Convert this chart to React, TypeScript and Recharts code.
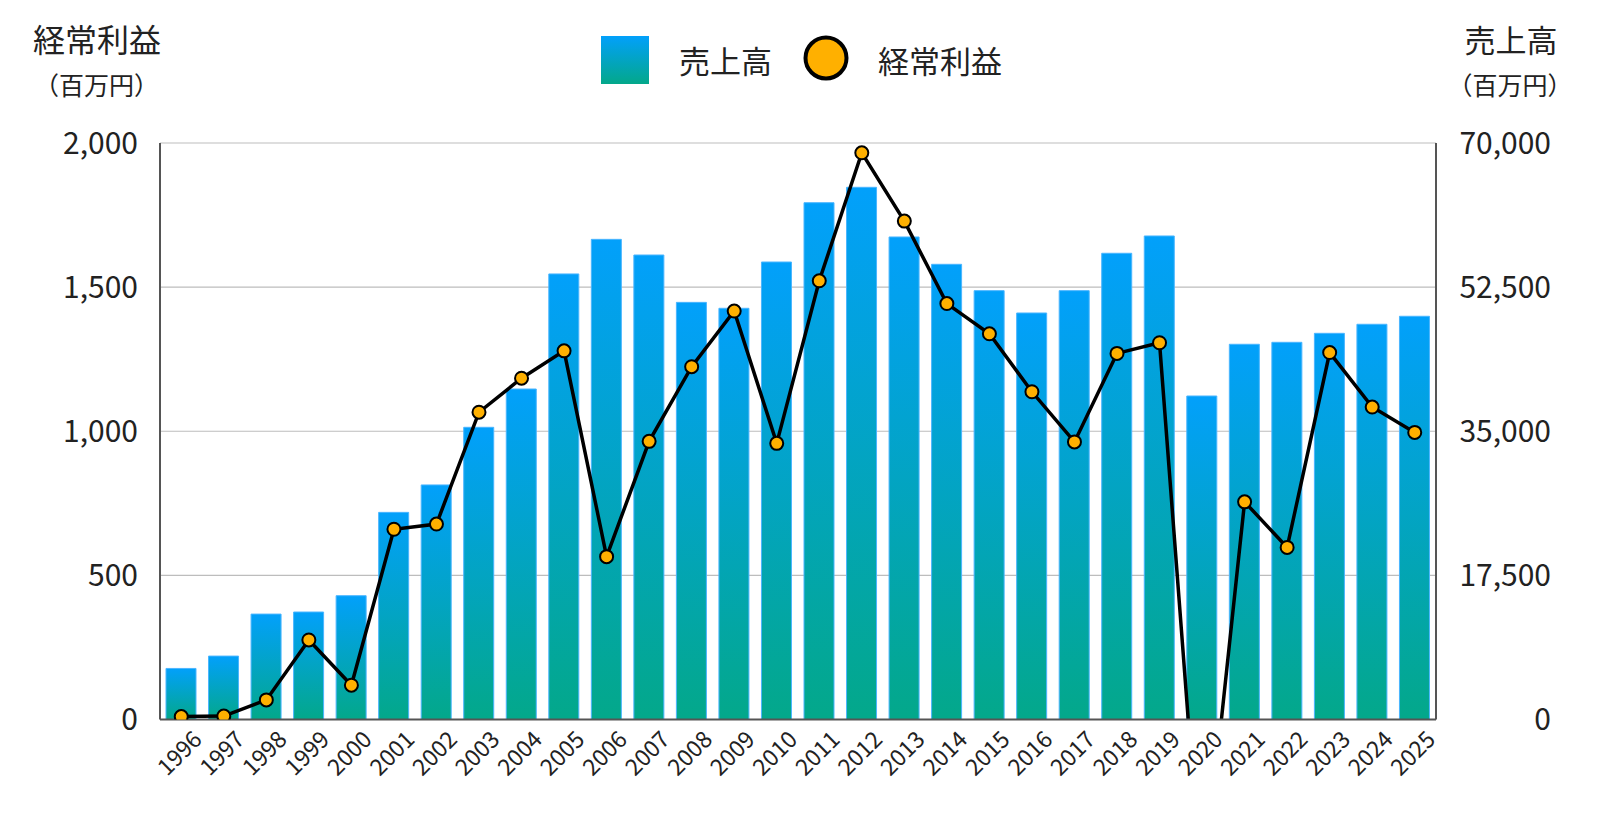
import React from 'react';
import { ComposedChart, Bar, Line, XAxis, YAxis, CartesianGrid } from 'recharts';

const years = ['1996', '1997', '1998', '1999', '2000', '2001', '2002', '2003', '2004', '2005', '2006', '2007', '2008', '2009', '2010', '2011', '2012', '2013', '2014', '2015', '2016', '2017', '2018', '2019', '2020', '2021', '2022', '2023', '2024', '2025'];
const sales = [6200, 7700, 12800, 13050, 15030, 25150, 28480, 35480, 40130, 54100, 58300, 56400, 50650, 49930, 55550, 62750, 64620, 58590, 55270, 52070, 49360, 52070, 56610, 58710, 39280, 45560, 45800, 46890, 47990, 48960];
const profit = [10, 12, 68, 276, 119, 660, 678, 1066, 1184, 1279, 565, 965, 1224, 1417, 958, 1522, 1966, 1729, 1443, 1338, 1137, 963, 1270, 1307, -630, 755, 597, 1273, 1084, 996];
const leftTicks = [0, 500, 1000, 1500, 2000];
const rightTicks = [0, 17500, 35000, 52500, 70000];

const salesName = '売上高';
const profitName = '経常利益';
const unitLabel = '（百万円）';

const data = years.map((y, i) => ({ year: y, sales: sales[i], profit: profit[i] }));

const FONT = '"Noto Sans CJK JP", "Noto Sans", sans-serif';
const fmt = (v: number) => v.toLocaleString('en-US');

const XTick = (props: any) => {
  const { x, y, payload } = props;
  const ax = x + 22;
  const ay = y + 13.5;
  return (
    <text x={ax} y={ay} textAnchor="end" transform={`rotate(-45, ${ax}, ${ay})`} fontSize={23} fill="#222" fontFamily={FONT}>
      {payload.value}
    </text>
  );
};

const LeftTick = (props: any) => {
  const { x, y, payload } = props;
  return (
    <text x={x - 14} y={y} dy="0.355em" textAnchor="end" fontSize={30} fill="#222" fontFamily={FONT}>
      {fmt(payload.value)}
    </text>
  );
};

const RightTick = (props: any) => {
  const { x, y, payload } = props;
  return (
    <text x={x + 107} y={y} dy="0.355em" textAnchor="end" fontSize={30} fill="#222" fontFamily={FONT}>
      {fmt(payload.value)}
    </text>
  );
};

export default function App() {
  return (
    <div style={{ position: 'relative', width: 1584, height: 814, fontFamily: FONT }}>
      <ComposedChart
        width={1584}
        height={800}
        data={data}
        margin={{ top: 135, right: 36, left: 52, bottom: 28.5 }}
      >
        <defs>
          <linearGradient id="barGrad" x1="0" y1="0" x2="0" y2="1">
            <stop offset="0%" stopColor="#02a0fb" />
            <stop offset="100%" stopColor="#03a88a" />
          </linearGradient>
        </defs>
        <CartesianGrid yAxisId="left" vertical={false} stroke="#bdbdbd" strokeWidth={1.2} />
        <XAxis
          dataKey="year"
          height={60}
          tick={<XTick />}
          tickLine={false}
          interval={0}
          axisLine={{ stroke: '#555', strokeWidth: 2 }}
        />
        <YAxis
          yAxisId="left"
          orientation="left"
          width={100}
          domain={[0, 2000]}
          ticks={leftTicks}
          allowDataOverflow
          tick={<LeftTick />}
          tickLine={false}
          axisLine={{ stroke: '#555', strokeWidth: 2 }}
        />
        <YAxis
          yAxisId="right"
          orientation="right"
          width={120}
          domain={[0, 70000]}
          ticks={rightTicks}
          allowDataOverflow
          tick={<RightTick />}
          tickLine={false}
          axisLine={{ stroke: '#555', strokeWidth: 2 }}
        />
        <Bar
          yAxisId="right"
          dataKey="sales"
          name={salesName}
          barSize={30}
          fill="url(#barGrad)"
          stroke="#4ab5ff"
          strokeWidth={1}
          isAnimationActive={false}
        />
        <Line
          yAxisId="left"
          dataKey="profit"
          name={profitName}
          type="linear"
          stroke="#000"
          strokeWidth={3.5}
          dot={{ r: 6.5, fill: '#ffb000', stroke: '#000', strokeWidth: 2 }}
          activeDot={false}
          isAnimationActive={false}
        />
      </ComposedChart>
      <svg width={1584} height={814} style={{ position: 'absolute', left: 0, top: 0, pointerEvents: 'none' }}>
        <text x={89} y={44} textAnchor="middle" fontSize={32} fill="#222" fontFamily={FONT}>{profitName}</text>
        <text x={88.5} y={86.5} textAnchor="middle" fontSize={25} fill="#222" fontFamily={FONT}>{unitLabel}</text>
        <text x={1503} y={44} textAnchor="middle" fontSize={31} fill="#222" fontFamily={FONT}>{salesName}</text>
        <text x={1502} y={86.5} textAnchor="middle" fontSize={25} fill="#222" fontFamily={FONT}>{unitLabel}</text>
        <defs>
          <linearGradient id="legGrad" x1="0" y1="0" x2="0" y2="1">
            <stop offset="0%" stopColor="#02a0fb" />
            <stop offset="100%" stopColor="#03a88a" />
          </linearGradient>
        </defs>
        <rect x={593} y={28} width={48} height={48} fill="url(#legGrad)" />
        <text x={671} y={65} fontSize={31} fill="#222" fontFamily={FONT}>{salesName}</text>
        <circle cx={818} cy={50} r={20.5} fill="#ffb000" stroke="#000" strokeWidth={4} />
        <text x={870} y={65} fontSize={31} fill="#222" fontFamily={FONT}>{profitName}</text>
      </svg>
    </div>
  );
}
